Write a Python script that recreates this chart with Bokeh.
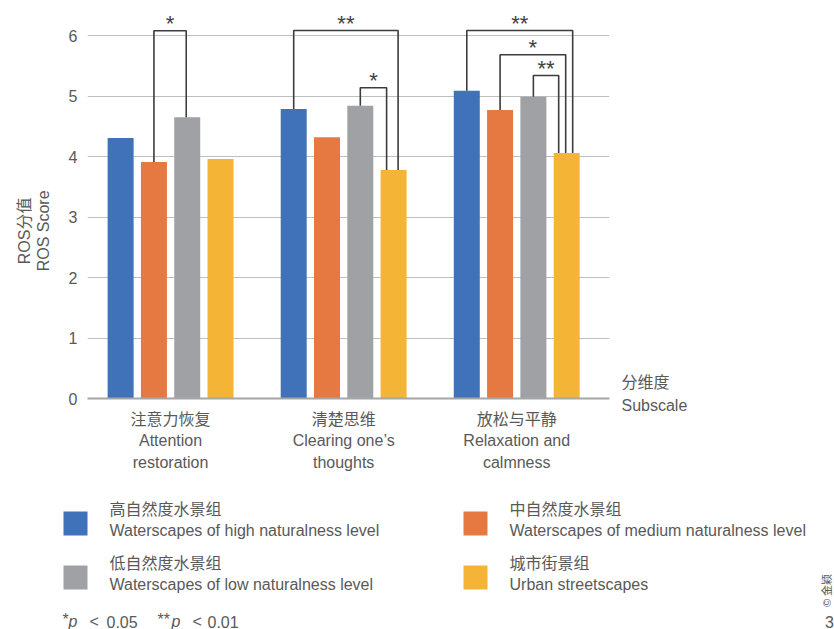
import math

from bokeh.core.properties import value
from bokeh.embed import file_html
from bokeh.layouts import column
from bokeh.models import ColumnDataSource, FixedTicker, LinearAxis, Range1d
from bokeh.plotting import figure
from bokeh.resources import INLINE

# ---------------- data ----------------
subscale_cn = ["注意力恢复", "清楚思维", "放松与平静"]
subscale_en = ["Attention\nrestoration", "Clearing one’s\nthoughts", "Relaxation and\ncalmness"]

group_cn = ["高自然度水景组", "中自然度水景组", "低自然度水景组", "城市街景组"]
group_en = ["Waterscapes of high naturalness level",
            "Waterscapes of medium naturalness level",
            "Waterscapes of low naturalness level",
            "Urban streetscapes"]

score_high = [4.31, 4.79, 5.09]
score_medium = [3.91, 4.32, 4.77]
score_low = [4.65, 4.84, 4.99]
score_urban = [3.96, 3.78, 4.06]

y_ticks = [0, 1, 2, 3, 4, 5, 6]

# pairwise comparisons: subscale index, first group, second group, marker
cmp_subscale = [0, 1, 1, 2, 2, 2]
cmp_first = [1, 0, 2, 0, 1, 2]
cmp_second = [2, 3, 3, 3, 3, 3]
cmp_mark = ["*", "**", "*", "**", "*", "**"]

# ---------------- style / layout ----------------
COLORS = ["#3F72B9", "#E67942", "#A0A1A5", "#F4B436"]
TEXT = "#595959"
LATIN = "Liberation Sans"
CJK = "Noto Sans CJK SC"
MIXED = "Liberation Sans, Noto Sans CJK SC"
NBSP = "\u00a0"

W, H = 834, 629
TOP_H = 490                                # chart part; legend strip below
FL, FR, FT, FB = 87, 609, 5, 398           # plot frame edges on the page
X0, X1 = -0.48, 2.536
Y0, Y1 = 0.0, 6.5
UX = (FR - FL) / (X1 - X0)
UY = (FB - FT) / (Y1 - Y0)

BAR_PITCH = 33.3 / UX
BAR_W = 26.0 / UX
OFFSETS = [-1.5, -0.5, 0.5, 1.5]

# bracket geometry (page pixels): top of each bracket and sideways shift of its right leg
BRACKET_TOP_PX = [30.3, 30.0, 87.3, 30.0, 54.3, 75.0]
BRACKET_SHIFT_PX = [-1.0, 4.5, -7.0, 6.0, -1.0, -8.0]


def dy(py):
    return (FB - py) / UY


# ================= chart =================
p = figure(width=W, height=TOP_H,
           x_range=Range1d(X0, X1), y_range=Range1d(Y0, Y1),
           min_border_left=FL, min_border_right=W - FR,
           min_border_top=FT, min_border_bottom=TOP_H - FB,
           output_backend="svg", toolbar_location=None,
           outline_line_color=None, background_fill_color="white",
           border_fill_color="white")
p.frame_align = False

p.xgrid.visible = False
p.ygrid.ticker = FixedTicker(ticks=y_ticks)
p.ygrid.grid_line_color = "#BFBFBF"
p.ygrid.grid_line_width = 1

# value axis with its two-line title (trailing spaces lower the title a little)
pad = NBSP * 13
yax = p.yaxis[0]
yax.ticker = FixedTicker(ticks=y_ticks)
yax.axis_line_color = None
yax.major_tick_line_color = None
yax.minor_tick_line_color = None
yax.major_label_standoff = 4
yax.major_label_text_font = LATIN
yax.major_label_text_font_size = "16px"
yax.major_label_text_color = TEXT
yax.axis_label = "ROS分值" + pad + "\nROS Score" + pad
yax.axis_label_text_font = MIXED
yax.axis_label_text_font_size = "16px"
yax.axis_label_text_font_style = "normal"
yax.axis_label_text_color = TEXT
yax.axis_label_text_line_height = 1.12
yax.axis_label_standoff = 14

# category axis
xax = p.xaxis[0]
xax.ticker = FixedTicker(ticks=[0, 1, 2])
xax.major_label_overrides = {i: subscale_cn[i] + "\n" + subscale_en[i] for i in range(3)}
xax.axis_line_color = "#A6A6A6"
xax.axis_line_width = 2
xax.major_tick_line_color = None
xax.minor_tick_line_color = None
xax.major_label_standoff = 6
xax.major_label_text_font = MIXED
xax.major_label_text_font_size = "16px"
xax.major_label_text_color = TEXT
xax.major_label_text_line_height = 1.27

# dimension caption at the right end of the category axis
SUB_TICK = 0.07
rax = LinearAxis(ticker=FixedTicker(ticks=[SUB_TICK]),
                 major_label_overrides={SUB_TICK: "分维度\nSubscale"},
                 axis_line_color=None, major_tick_line_color=None,
                 minor_tick_line_color=None, major_label_standoff=6,
                 major_label_text_font=MIXED, major_label_text_font_size="16px",
                 major_label_text_color=TEXT, major_label_text_line_height=1.35)
p.add_layout(rax, "right")

# bars
series = [score_high, score_medium, score_low, score_urban]
for k, vals in enumerate(series):
    xs = [i + OFFSETS[k] * BAR_PITCH for i in range(len(vals))]
    src = ColumnDataSource(dict(x=xs, top=vals))
    p.vbar(x="x", top="top", width=BAR_W, source=src,
           fill_color=COLORS[k], line_color=None)

# significance brackets
xs_lines, ys_lines, mark_x, mark_y = [], [], [], []
for j in range(len(cmp_subscale)):
    i = cmp_subscale[j]
    a, b = cmp_first[j], cmp_second[j]
    xa = i + OFFSETS[a] * BAR_PITCH
    xb = i + OFFSETS[b] * BAR_PITCH + BRACKET_SHIFT_PX[j] / UX
    top = dy(BRACKET_TOP_PX[j])
    xs_lines.append([xa, xa, xb, xb])
    ys_lines.append([series[a][i], top, top, series[b][i]])
    mark_x.append((xa + xb) / 2)
    mark_y.append(top)

p.multi_line(xs=xs_lines, ys=ys_lines, line_color="#3C3C3C", line_width=1.6)
p.text(x=mark_x, y=mark_y, text=cmp_mark, text_align="center",
       text_baseline="alphabetic", y_offset=-7,
       text_font=value(LATIN), text_font_size="22px", text_color="#404040")

# ================= legend strip (page pixel coordinates) =================
q = figure(width=W, height=H - TOP_H,
           x_range=Range1d(0, W), y_range=Range1d(H, TOP_H),
           x_axis_location=None, y_axis_location=None,
           min_border=0, min_border_left=0, min_border_right=0,
           min_border_top=0, min_border_bottom=0,
           output_backend="svg", toolbar_location=None,
           outline_line_color=None, background_fill_color="white",
           border_fill_color="white")
q.frame_align = False
q.grid.visible = False

legend_box_x = [63, 463]
legend_text_x = [109, 509]
legend_row_y = [511, 565]
sw_left, sw_top, cn_x, cn_y, en_y = [], [], [], [], []
for k in range(4):
    col, row = k % 2, k // 2
    sw_left.append(legend_box_x[col])
    sw_top.append(legend_row_y[row])
    cn_x.append(legend_text_x[col])
    cn_y.append(legend_row_y[row] - 4)
    en_y.append(legend_row_y[row] + 18.5)

q.quad(left=sw_left, right=[v + 24 for v in sw_left],
       top=sw_top, bottom=[v + 24 for v in sw_top],
       fill_color=COLORS, line_color=None)
q.text(x=cn_x, y=cn_y, text=group_cn, text_baseline="middle",
       text_font=value(CJK), text_font_size="16px", text_color=TEXT)
q.text(x=cn_x, y=en_y, text=group_en, text_baseline="middle",
       text_font=value(LATIN), text_font_size="16px", text_color=TEXT)

# significance footnote
fn_x = [62, 89, 106, 157, 192, 207]
fn_y = [619, 621, 621, 619, 621, 621]
fn_text = ["*", "<", "0.05", "**", "<", "0.01"]
q.text(x=fn_x, y=fn_y, text=fn_text, text_baseline="middle",
       text_font=value(LATIN), text_font_size="16px", text_color=TEXT)
q.text(x=[68, 171], y=[621, 621], text=["p", "p"], text_baseline="middle",
       text_font=value(LATIN), text_font_style="italic",
       text_font_size="16px", text_color=TEXT)

# credit
q.text(x=[826], y=[590], text=["© 金颖"], angle=math.pi / 2,
       text_align="center", text_baseline="middle",
       text_font=value(MIXED), text_font_size="11px", text_color=TEXT)
q.text(x=[829], y=[621], text=["3"], text_align="center", text_baseline="middle",
       text_font=value(LATIN), text_font_size="16px", text_color=TEXT)

page = column(p, q, spacing=0)
open("out.html", "w").write(file_html(page, INLINE))
